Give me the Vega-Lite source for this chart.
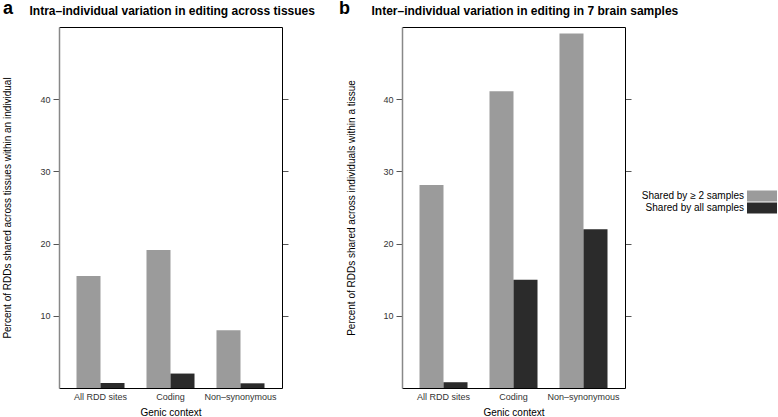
{
  "$schema": "https://vega.github.io/schema/vega-lite/v6.json",
  "padding": {"left": 2, "top": 0, "right": 0, "bottom": 0},
  "background": "white",
  "data": {
    "values": [
      {"panel": "a", "context": "All RDD sites", "group": "Shared by ≥ 2 samples", "value": 15.5},
      {"panel": "a", "context": "All RDD sites", "group": "Shared by all samples", "value": 0.7},
      {"panel": "a", "context": "Coding", "group": "Shared by ≥ 2 samples", "value": 19.1},
      {"panel": "a", "context": "Coding", "group": "Shared by all samples", "value": 2.0},
      {"panel": "a", "context": "Non–synonymous", "group": "Shared by ≥ 2 samples", "value": 8.0},
      {"panel": "a", "context": "Non–synonymous", "group": "Shared by all samples", "value": 0.65},
      {"panel": "b", "context": "All RDD sites", "group": "Shared by ≥ 2 samples", "value": 28.1},
      {"panel": "b", "context": "All RDD sites", "group": "Shared by all samples", "value": 0.8},
      {"panel": "b", "context": "Coding", "group": "Shared by ≥ 2 samples", "value": 41.1},
      {"panel": "b", "context": "Coding", "group": "Shared by all samples", "value": 15.0},
      {"panel": "b", "context": "Non–synonymous", "group": "Shared by ≥ 2 samples", "value": 49.1},
      {"panel": "b", "context": "Non–synonymous", "group": "Shared by all samples", "value": 22.0}
    ]
  },
  "bounds": "flush",
  "spacing": 120,
  "hconcat": [
    {
      "width": 223,
      "height": 361,
      "title": {"text": "a"},
      "transform": [{"filter": "datum.panel == 'a'"}],
      "layer": [
        {
          "mark": {"type": "bar"},
          "encoding": {
            "x": {
              "field": "context", "type": "nominal",
              "sort": ["All RDD sites", "Coding", "Non–synonymous"],
              "scale": {"paddingInner": 0.314, "paddingOuter": 0.25},
              "axis": {"orient": "bottom", "title": "Genic context", "labelAngle": 0, "ticks": false, "tickSize": 0, "labelPadding": 4, "titlePadding": 6, "domainColor": "#000000"}
            },
            "xOffset": {
              "field": "group", "type": "nominal",
              "sort": ["Shared by ≥ 2 samples", "Shared by all samples"],
              "scale": {"paddingInner": 0, "paddingOuter": 0}
            },
            "y": {
              "field": "value", "type": "quantitative",
              "scale": {"domain": [0, 50], "nice": false},
              "axis": {"orient": "left", "values": [10, 20, 30, 40], "title": "Percent of RDDs shared across tissues within an individual", "titlePadding": 27, "domainColor": "#888888", "domainWidth": 1.5}
            },
            "color": {
              "field": "group", "type": "nominal",
              "scale": {"domain": ["Shared by ≥ 2 samples", "Shared by all samples"], "range": ["#9b9b9b", "#2b2b2b"]},
              "legend": {
                "title": null, "orient": "none", "legendX": 688, "legendY": 164,
                "symbolType": "M-1,-1.1H5V1.1H-1Z", "symbolSize": 100, "symbolStrokeWidth": 0,
                "labelAlign": "right", "labelOffset": -13, "labelFontSize": 10, "labelColor": "#000000",
                "rowPadding": 0, "padding": 0
              }
            }
          }
        },
        {
          "mark": {"type": "bar", "opacity": 0},
          "encoding": {
            "x": {
              "field": "context", "type": "nominal",
              "sort": ["All RDD sites", "Coding", "Non–synonymous"],
              "axis": {"orient": "top", "title": "Intra–individual variation in editing across tissues", "titleX": -30, "titleY": -13, "titleAnchor": "start", "titleAlign": "left", "titleBaseline": "alphabetic", "titleFontSize": 12, "titleFontWeight": "bold", "labels": false, "ticks": false, "tickSize": 0, "domainColor": "#000000"}
            },
            "y": {
              "field": "value", "type": "quantitative", "stack": null,
              "axis": {"orient": "right", "values": [10, 20, 30, 40], "title": null, "labels": false, "domainColor": "#000000"}
            }
          }
        }
      ],
      "resolve": {"axis": {"x": "independent", "y": "independent"}}
    },
    {
      "width": 223,
      "height": 361,
      "title": {"text": "b", "dx": -8},
      "transform": [{"filter": "datum.panel == 'b'"}],
      "layer": [
        {
          "mark": {"type": "bar"},
          "encoding": {
            "x": {
              "field": "context", "type": "nominal",
              "sort": ["All RDD sites", "Coding", "Non–synonymous"],
              "scale": {"paddingInner": 0.314, "paddingOuter": 0.25},
              "axis": {"orient": "bottom", "title": "Genic context", "labelAngle": 0, "ticks": false, "tickSize": 0, "labelPadding": 4, "titlePadding": 6, "domainColor": "#000000"}
            },
            "xOffset": {
              "field": "group", "type": "nominal",
              "sort": ["Shared by ≥ 2 samples", "Shared by all samples"],
              "scale": {"paddingInner": 0, "paddingOuter": 0}
            },
            "y": {
              "field": "value", "type": "quantitative",
              "scale": {"domain": [0, 50], "nice": false},
              "axis": {"orient": "left", "values": [10, 20, 30, 40], "title": "Percent of RDDs shared across individuals within a tissue", "titlePadding": 26, "domainColor": "#888888", "domainWidth": 1.5}
            },
            "color": {
              "field": "group", "type": "nominal",
              "scale": {"domain": ["Shared by ≥ 2 samples", "Shared by all samples"], "range": ["#9b9b9b", "#2b2b2b"]}
            }
          }
        },
        {
          "mark": {"type": "bar", "opacity": 0},
          "encoding": {
            "x": {
              "field": "context", "type": "nominal",
              "sort": ["All RDD sites", "Coding", "Non–synonymous"],
              "axis": {"orient": "top", "title": "Inter–individual variation in editing in 7 brain samples", "titleX": -31, "titleY": -13, "titleAnchor": "start", "titleAlign": "left", "titleBaseline": "alphabetic", "titleFontSize": 12, "titleFontWeight": "bold", "labels": false, "ticks": false, "tickSize": 0, "domainColor": "#000000"}
            },
            "y": {
              "field": "value", "type": "quantitative", "stack": null,
              "axis": {"orient": "right", "values": [10, 20, 30, 40], "title": null, "labels": false, "domainColor": "#000000"}
            }
          }
        }
      ],
      "resolve": {"axis": {"x": "independent", "y": "independent"}}
    }
  ],
  "config": {
    "view": {"stroke": null},
    "font": "Liberation Sans",
    "title": {
      "anchor": "start", "frame": "bounds", "fontSize": 18, "fontWeight": "bold", "color": "#000000", "offset": -14
    },
    "axis": {
      "grid": false,
      "labelFont": "Liberation Sans", "titleFont": "Liberation Sans",
      "labelFontSize": 9, "labelColor": "#333333",
      "titleFontSize": 10, "titleFontWeight": "normal", "titleColor": "#000000",
      "tickColor": "#555555", "tickSize": 6, "labelPadding": 3,
      "domainColor": "#000000", "domainWidth": 1
    }
  }
}
